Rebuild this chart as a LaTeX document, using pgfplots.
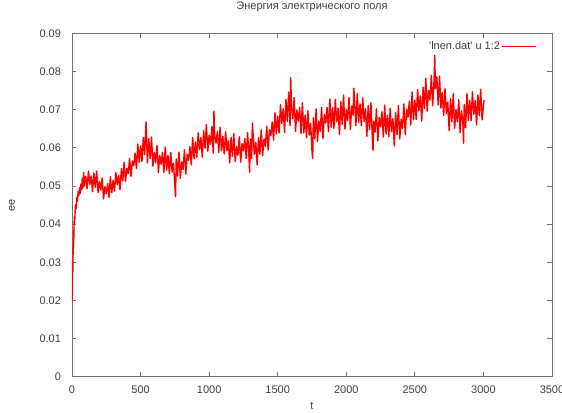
\documentclass[border=0pt]{standalone}
\usepackage{fontspec}
\setmainfont{Liberation Sans}[Ligatures=TeXOff]
\usepackage{pgfplots}
\pgfplotsset{compat=1.18}
\usepackage{pgfplotstable}
\pgfplotstableread{
t ee
0 0.0195
2 0.025
4 0.030
6 0.0275
8 0.033
10 0.036
12 0.034
15 0.040
18 0.042
20 0.041
25 0.045
30 0.044
35 0.047
40 0.046
45 0.0485
50 0.0475
55 0.0495
60 0.048
65 0.0505
70 0.049
75 0.052
80 0.0495
85 0.0535
90 0.050
95 0.052
100 0.0525
110 0.0493
120 0.0539
130 0.0504
140 0.0526
150 0.0485
160 0.0534
170 0.0496
180 0.0539
190 0.0483
200 0.0511
210 0.0489
220 0.0521
230 0.0466
240 0.0498
250 0.0479
260 0.0506
270 0.0470
280 0.0524
290 0.0482
300 0.0515
310 0.0486
320 0.0535
330 0.0503
340 0.0528
350 0.0490
360 0.0545
370 0.0513
380 0.0562
390 0.0512
400 0.0546
410 0.0532
420 0.0572
430 0.0525
440 0.0565
450 0.0553
460 0.0586
470 0.0545
480 0.0610
490 0.0562
500 0.0605
510 0.0564
520 0.0627
530 0.0582
540 0.0668
550 0.0560
560 0.0624
570 0.0572
580 0.0628
590 0.0552
600 0.0588
610 0.0561
620 0.0606
630 0.0535
640 0.0580
650 0.0557
660 0.0588
670 0.0535
680 0.0602
690 0.0541
700 0.0580
710 0.0532
720 0.0588
730 0.0536
740 0.0560
750 0.0500
755 0.0472
760 0.0571
770 0.0526
780 0.0589
790 0.0520
800 0.0563
810 0.0543
820 0.0595
830 0.0531
840 0.0583
850 0.0567
860 0.0603
870 0.0555
880 0.0627
890 0.0571
900 0.0615
910 0.0575
920 0.0639
930 0.0595
940 0.0627
950 0.0575
960 0.0645
970 0.0599
980 0.0661
990 0.0591
1000 0.0633
1010 0.0608
1020 0.0655
1030 0.0586
1035 0.0696
1040 0.0633
1050 0.0612
1060 0.0642
1070 0.0588
1080 0.0654
1090 0.0592
1100 0.0630
1110 0.0584
1120 0.0642
1130 0.0592
1140 0.0618
1150 0.0560
1160 0.0627
1170 0.0578
1180 0.0637
1190 0.0564
1200 0.0603
1210 0.0580
1220 0.0629
1230 0.0562
1240 0.0611
1250 0.0592
1260 0.0624
1270 0.0572
1280 0.0640
1290 0.0580
1295 0.0536
1300 0.0623
1310 0.0572
1315 0.0665
1320 0.0639
1330 0.0583
1340 0.0614
1350 0.0555
1360 0.0627
1370 0.0583
1380 0.0647
1390 0.0579
1400 0.0623
1410 0.0604
1420 0.0657
1430 0.0594
1440 0.0647
1450 0.0632
1460 0.0668
1470 0.0620
1480 0.0692
1490 0.0636
1500 0.0683
1510 0.0639
1520 0.0713
1530 0.0664
1540 0.0702
1550 0.0640
1560 0.0727
1570 0.0669
1580 0.0746
1590 0.0658
1595 0.0784
1600 0.0710
1610 0.0676
1620 0.0732
1630 0.0643
1640 0.0699
1650 0.0670
1660 0.0706
1670 0.0637
1680 0.0718
1690 0.0639
1700 0.0685
1710 0.0626
1720 0.0697
1730 0.0633
1740 0.0664
1750 0.0590
1755 0.0572
1760 0.0679
1770 0.0623
1780 0.0702
1790 0.0616
1800 0.0670
1810 0.0643
1820 0.0706
1830 0.0624
1840 0.0687
1850 0.0665
1860 0.0706
1870 0.0642
1880 0.0728
1890 0.0654
1900 0.0705
1910 0.0651
1920 0.0727
1930 0.0668
1940 0.0704
1950 0.0635
1960 0.0721
1970 0.0662
1980 0.0738
1990 0.0649
2000 0.0700
2010 0.0671
2020 0.0732
2030 0.0648
2040 0.0709
2050 0.0685
2055 0.0756
2060 0.0724
2070 0.0658
2080 0.0742
2090 0.0666
2100 0.0715
2110 0.0658
2120 0.0731
2130 0.0669
2140 0.0702
2150 0.0630
2160 0.0711
2170 0.0647
2180 0.0718
2190 0.0624
2195 0.0593
2200 0.0670
2210 0.0641
2220 0.0702
2230 0.0618
2240 0.0679
2250 0.0655
2260 0.0694
2270 0.0628
2280 0.0712
2290 0.0636
2300 0.0685
2310 0.0629
2320 0.0703
2330 0.0642
2340 0.0676
2350 0.0605
2360 0.0692
2370 0.0634
2380 0.0711
2390 0.0623
2400 0.0675
2410 0.0650
2420 0.0715
2430 0.0635
2440 0.0700
2450 0.0680
2460 0.0722
2470 0.0659
2480 0.0746
2490 0.0673
2500 0.0725
2510 0.0674
2520 0.0753
2530 0.0697
2540 0.0736
2550 0.0670
2560 0.0759
2570 0.0703
2580 0.0782
2590 0.0696
2600 0.0750
2610 0.0725
2620 0.0790
2630 0.0710
2640 0.0775
2645 0.0842
2650 0.0755
2660 0.0786
2670 0.0712
2680 0.0788
2690 0.0704
2700 0.0745
2710 0.0685
2720 0.0755
2730 0.0690
2740 0.0720
2750 0.0645
2760 0.0729
2770 0.0668
2780 0.0742
2790 0.0651
2800 0.0700
2810 0.0668
2820 0.0726
2830 0.0639
2840 0.0697
2850 0.0670
2855 0.0612
2860 0.0714
2870 0.0653
2880 0.0742
2890 0.0671
2900 0.0725
2910 0.0671
2920 0.0747
2930 0.0688
2940 0.0724
2950 0.0660
2960 0.0738
2970 0.0684
2980 0.0753
2990 0.0673
3000 0.0710
3005 0.0725
}\datatable
\definecolor{axgray}{gray}{0.45}
\definecolor{txtgray}{gray}{0.25}
\begin{document}
\begin{tikzpicture}
\path[use as bounding box] (-72bp,-36.3bp) rectangle (490bp,376.7bp);
\begin{axis}[
  at={(0,0)}, anchor=south west,
  scale only axis, width=480bp, height=343.4bp,
  xmin=0, xmax=3500, ymin=0, ymax=0.09,
  xtick={0,500,1000,1500,2000,2500,3000,3500},
  xticklabels={0,500,1000,1500,2000,2500,3000,3500},
  ytick={0,0.01,0.02,0.03,0.04,0.05,0.06,0.07,0.08,0.09},
  yticklabels={0,0.01,0.02,0.03,0.04,0.05,0.06,0.07,0.08,0.09},
  scaled y ticks=false, scaled x ticks=false,
  tick align=inside, major tick length=4.5bp,
  axis line style={axgray, line width=0.8bp},
  every tick/.style={axgray, line width=0.8bp},
  tick label style={font=\fontsize{11bp}{13bp}\selectfont, text=txtgray},
  xticklabel style={anchor=base, yshift=-16.5bp},
  yticklabel style={anchor=east, xshift=-7.5bp},
  title={Энергия электрического поля},
  title style={font=\fontsize{11bp}{13bp}\selectfont, text=txtgray, at={(axis description cs:0.5,1)}, anchor=base, yshift=17.8bp},
  xlabel={t},
  xlabel style={font=\fontsize{11bp}{13bp}\selectfont, text=txtgray, at={(axis description cs:0.5,0)}, anchor=base, yshift=-33bp},
  ylabel={ee},
  ylabel style={font=\fontsize{11bp}{13bp}\selectfont, text=txtgray, at={(axis description cs:-0.125,0.5)}, anchor=center},
  legend cell align=right,
  legend plot pos=right,
  legend image code/.code={\draw[red, line width=0.8bp] (0bp,0bp) -- (34bp,0bp);},
  legend style={at={(rel axis cs:1,1)}, anchor=north east, xshift=-12bp, yshift=-4bp,
    draw=none, fill=none, font=\fontsize{11bp}{13bp}\selectfont, text=txtgray},
]
\addplot[red, line width=1.4bp, line join=round] table[x=t, y=ee]{\datatable};
\addlegendentry{'lnen.dat' u 1:2}
\end{axis}
\end{tikzpicture}
\end{document}
